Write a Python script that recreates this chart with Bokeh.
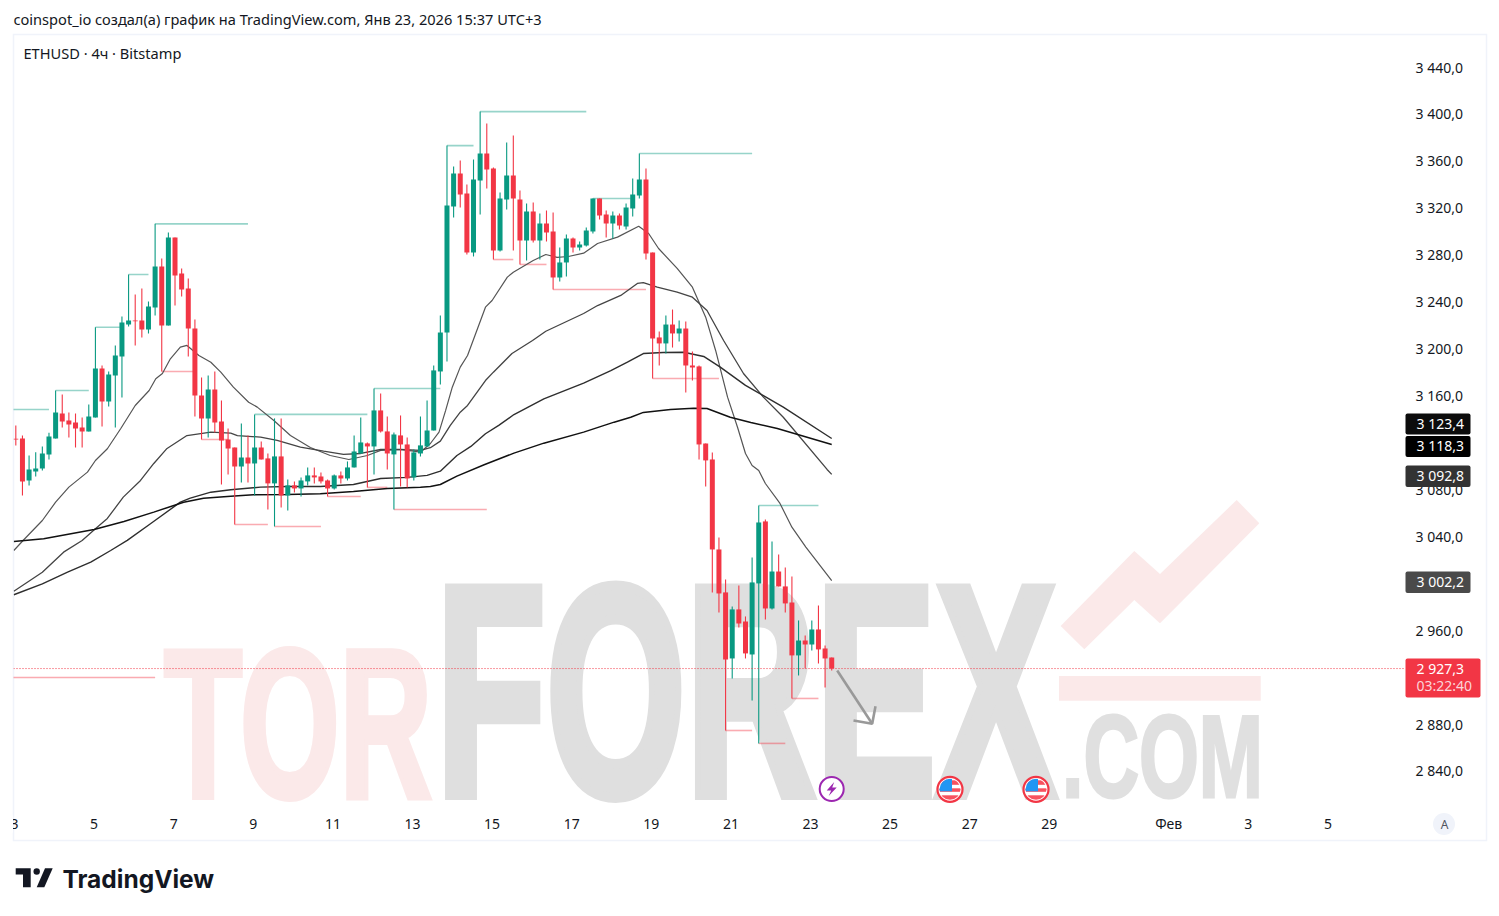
from bokeh.plotting import figure
from bokeh.models import (Range1d, LinearAxis, FixedTicker, BoxAnnotation, Span, Div, ColumnDataSource)
from bokeh.core.properties import value
from bokeh.layouts import column
from bokeh.embed import file_html
from bokeh.resources import INLINE

# ---------- candles (ETHUSD 4h) ----------
opens = [3123.1,3123.4,3087.6,3095.2,3097.8,3109.7,3123.4,3144.7,3138.7,3137.0,3132.7,3129.3,3141.3,3183.0,3154.9,3177.0,
         3193.2,3220.5,3223.9,3223.9,3216.3,3235.0,3269.9,3219.7,3294.7,3264.0,3251.2,3217.1,3160.0,3140.4,3165.1,3137.8,
         3122.5,3115.7,3099.6,3107.2,3102.1,3115.7,3106.4,3085.1,3108.1,3074.8,3083.4,3080.8,3086.8,3091.9,3091.0,3087.6,
         3080.8,3091.9,3089.3,3098.7,3110.6,3119.2,3116.6,3147.3,3129.4,3109.8,3126.0,3118.3,3090.2,3110.6,3116.6,3130.2,
         3180.5,3213.7,3321.1,3349.2,3332.2,3281.9,3343.3,3366.3,3353.5,3283.6,3327.0,3347.5,3327.0,3292.1,3316.8,3292.1,
         3306.6,3299.8,3260.6,3273.4,3293.8,3286.2,3287.9,3299.8,3327.9,3314.3,3306.6,3313.4,3304.0,3319.4,3330.5,3344.1,
         3281.9,3209.5,3204.4,3220.5,3212.9,3217.1,3185.6,3184.8,3119.1,3105.5,3028.8,2992.2,2935.9,2977.7,2967.4,2939.3,
         2999.8,3052.7,2978.5,3010.0,2997.3,2983.6,2938.5,2951.2,2947.8,2960.6,2944.4,2936.7]
highs = [3134.4,3125.9,3108.9,3111.7,3116.5,3128.2,3164.3,3160.9,3145.5,3144.7,3141.3,3152.3,3218.2,3185.6,3180.5,3202.6,
         3227.3,3263.1,3246.1,3251.2,3240.1,3306.3,3276.8,3298.9,3294.7,3268.2,3259.7,3224.8,3175.3,3177.0,3180.5,3155.7,
         3131.9,3115.7,3136.2,3126.0,3143.9,3120.9,3110.6,3140.5,3140.5,3088.5,3086.8,3090.2,3098.7,3098.7,3094.4,3088.5,
         3092.7,3095.3,3103.8,3126.0,3141.3,3120.0,3166.0,3161.8,3142.2,3128.5,3143.0,3124.3,3114.0,3142.2,3155.8,3185.6,
         3228.2,3373.0,3355.2,3360.3,3339.8,3361.2,3402.0,3391.8,3354.4,3333.0,3375.7,3381.6,3334.7,3323.7,3324.5,3315.1,
         3317.7,3316.0,3286.2,3297.2,3294.7,3291.3,3303.2,3327.9,3327.9,3317.7,3316.8,3315.1,3323.7,3345.0,3366.3,3353.5,
         3281.9,3214.6,3228.2,3233.3,3224.0,3223.1,3197.5,3185.6,3119.1,3111.5,3039.0,3003.2,2980.2,2998.1,2971.7,3022.0,
         3066.3,3054.4,3035.6,3024.5,3013.5,3005.8,2968.3,2955.5,2968.3,2981.1,2947.0,2936.7]
lows = [3117.4,3074.8,3083.3,3091.0,3096.1,3105.5,3123.4,3132.7,3124.2,3115.7,3115.7,3129.3,3141.3,3133.6,3150.6,3132.7,
        3158.3,3218.8,3202.6,3209.4,3212.8,3228.2,3180.5,3219.7,3236.7,3244.4,3193.2,3142.1,3122.5,3124.2,3128.5,3084.1,
        3092.7,3050.1,3085.9,3085.9,3074.8,3105.5,3062.9,3048.4,3064.6,3062.1,3077.4,3074.0,3083.4,3085.1,3085.1,3074.0,
        3080.0,3085.1,3087.6,3098.7,3110.6,3081.7,3092.7,3128.5,3097.0,3062.9,3082.5,3081.7,3087.6,3108.1,3116.6,3130.2,
        3169.4,3189.0,3311.7,3320.2,3280.2,3278.5,3314.3,3336.4,3275.9,3282.7,3318.6,3283.6,3271.7,3275.0,3290.4,3275.9,
        3291.3,3250.4,3257.2,3261.4,3281.9,3283.6,3287.0,3298.1,3310.0,3294.7,3293.8,3301.5,3301.5,3312.6,3327.9,3275.9,
        3174.5,3185.6,3195.8,3200.9,3206.1,3162.6,3172.8,3105.5,3082.5,2992.2,2975.1,2874.5,2918.9,2962.3,2935.9,2900.1,
        2863.5,2969.1,2977.7,2997.3,2975.1,2901.8,2921.4,2927.4,2942.7,2931.6,2911.2,2925.7]
closes = [3122.5,3086.7,3096.9,3097.8,3110.6,3125.1,3145.5,3137.8,3135.3,3131.9,3129.3,3142.1,3183.0,3154.9,3177.9,3194.1,
          3222.2,3223.9,3223.4,3216.3,3235.9,3269.9,3219.7,3294.7,3262.3,3250.3,3217.1,3160.0,3140.4,3165.1,3137.0,3121.6,
          3114.8,3099.6,3107.2,3102.1,3115.7,3105.5,3085.1,3108.1,3074.8,3083.4,3080.8,3087.6,3091.9,3090.2,3086.8,3080.8,
          3091.9,3089.3,3098.7,3112.3,3120.0,3116.6,3147.3,3129.4,3110.6,3126.8,3118.3,3089.3,3111.5,3117.5,3130.2,3181.4,
          3213.7,3322.0,3349.2,3331.4,3281.9,3344.1,3366.3,3352.6,3283.6,3327.9,3347.5,3327.9,3292.1,3316.8,3292.1,3306.6,
          3299.0,3260.6,3273.4,3293.8,3286.2,3288.7,3300.7,3327.9,3313.4,3306.6,3313.4,3304.9,3320.2,3331.4,3344.1,3281.0,
          3208.6,3204.4,3220.5,3212.9,3217.1,3185.6,3183.9,3118.3,3104.7,3028.8,2991.3,2935.0,2977.7,2965.7,2940.2,3000.7,
          3051.8,2978.5,3010.0,2997.3,2982.8,2938.5,2951.2,2947.8,2960.6,2943.6,2935.9,2927.3]

# ---------- moving averages: candle number, value ----------
ema_a_i = [-0.3,1.2,4.0,6.0,8.0,10.8,12.0,13.8,15.8,18.0,20.1,21.1,22.1,23.3,24.8,25.8,27.6,29.4,30.9,32.8,35.1,36.4,38.9,41.4,44.4,47.4,50.2,53.0,55.0,58.0,61.0,62.5,63.8,64.8,65.8,67.0,68.1,70.8,71.8,74.1,75.0,78.0,79.9,81.6,83.3,85.6,87.7,90.7,93.9,95.4,96.9,99.7,102.0,104.0,105.5,107.3,108.8,110.0,111.0,112.0,113.0,115.2,117.0,119.1,123.0]
ema_a_v = [3027.9,3037.1,3053.5,3069.1,3081.9,3094.7,3104.6,3114.6,3131.7,3151.5,3164.3,3174.3,3178.8,3191.3,3201.2,3202.7,3194.1,3188.4,3179.9,3167.1,3154.3,3150.1,3138.7,3125.9,3115.7,3108.9,3105.5,3108.9,3113.2,3114.0,3111.7,3119.1,3128.8,3147.3,3167.1,3184.2,3194.1,3235.3,3241.0,3260.9,3265.1,3275.1,3280.2,3277.7,3278.5,3281.3,3289.6,3295.0,3304.3,3298.1,3285.3,3268.3,3252.3,3226.8,3198.4,3158.6,3133.0,3110.6,3100.4,3096.1,3085.0,3068.0,3047.8,3030.8,3002.2]
ema_b_i = [-0.3,4.0,7.2,10.0,12.0,13.8,16.2,18.8,20.8,22.8,25.8,29.4,32.4,33.4,36.9,39.4,42.9,46.4,49.4,52.0,55.0,58.0,61.0,62.5,64.0,65.5,67.0,68.1,70.8,72.0,74.8,77.9,79.9,85.6,87.7,91.2,93.7,94.6,96.7,99.7,102.0,104.2,106.7,109.7,112.7,115.7,122.3,123.0]
ema_b_v = [2993.2,3009.4,3026.5,3036.5,3046.4,3055.2,3073.4,3087.6,3102.1,3114.9,3125.9,3128.8,3127.9,3125.9,3124.5,3121.7,3116.0,3112.6,3109.8,3110.6,3114.0,3114.0,3113.2,3115.5,3121.1,3134.5,3145.8,3151.5,3172.8,3179.9,3195.8,3206.9,3214.8,3229.9,3236.7,3245.3,3255.5,3256.3,3252.3,3248.1,3243.8,3232.5,3206.9,3178.8,3158.6,3141.5,3097.0,3092.8]
ema_c_i = [-0.3,4.0,7.8,11.3,14.3,16.8,20.3,24.8,26.3,29.4,32.4,36.9,40.9,45.9,50.9,55.0,59.0,62.0,64.0,66.5,68.6,70.8,72.8,75.1,79.6,85.6,89.7,92.2,94.6,97.6,100.7,103.7,106.2,110.0,112.7,115.7,123.0]
ema_c_v = [2990.2,2999.5,3009.4,3018.0,3027.9,3036.5,3050.7,3069.1,3072.5,3077.6,3079.7,3081.9,3082.5,3082.5,3084.2,3089.3,3090.2,3091.9,3095.5,3108.9,3116.6,3127.4,3134.5,3143.8,3157.2,3170.5,3181.3,3188.4,3195.8,3196.7,3196.9,3193.3,3184.2,3168.6,3160.0,3150.1,3123.4]
ema_d_i = [-0.3,4.2,11.8,16.3,20.8,25.3,28.3,32.4,35.8,40.9,45.9,50.9,56.0,61.0,62.5,64.0,66.5,70.6,75.1,79.6,85.6,90.2,92.7,94.6,98.7,102.2,104.2,107.7,110.8,114.8,123.0]
ema_d_v = [3035.6,3037.9,3045.8,3052.7,3060.6,3069.1,3072.5,3074.2,3075.4,3075.7,3076.3,3078.2,3080.8,3081.9,3082.5,3084.2,3091.3,3101.0,3110.9,3119.4,3128.8,3137.3,3141.5,3145.6,3148.1,3149.2,3149.0,3141.5,3137.0,3131.9,3118.3]

# ---------- swing levels: first candle, last candle, price ----------
hi_start = [-3,6,12,17,21,36,54,65,70,87,94,112]
hi_end = [5,11,15.7,20,35,53,64,69,86,92.7,111,121]
hi_price = [3148.1,3164.3,3218.2,3263.1,3306.3,3143.9,3166.0,3373.0,3402.0,3327.9,3366.3,3066.3]
lo_start = [-3,22,28,33,39,47,53,57,72,76,81,96,107,112,117]
lo_end = [21,27,32,38,46,52,56,71,75,80,95,106,111,116,121]
lo_price = [2919.7,3180.5,3122.5,3050.1,3048.4,3074.0,3081.7,3062.9,3275.9,3271.7,3250.4,3174.5,2874.5,2863.5,2901.8]

# ---------- axes ----------
price_ticks = [3440,3400,3360,3320,3280,3240,3200,3160,3080,3040,2960,2880,2840]
price_labels = ["3 440,0","3 400,0","3 360,0","3 320,0","3 280,0","3 240,0","3 200,0","3 160,0","3 080,0","3 040,0","2 960,0","2 880,0","2 840,0"]
date_ticks = [3,5,7,9,11,13,15,17,19,21,23,25,27,29,32,34,36]
date_labels = ["3","5","7","9","11","13","15","17","19","21","23","25","27","29","Фев","3","5"]

# ---------- price tags ----------
tag_text = ["3 123,4","3 118,3","3 092,8","3 002,2","2 927,3"]
tag_fill = ["#0c0c0c","#000000","#333333","#4a4a4a","#f23645"]
tag_top = [413,435.5,465,571,658]
tag_bottom = [434,456.5,486.5,592.5,697]
tag_right = [1470,1470,1470,1470,1480]

FONT = "Noto Sans"
INK = "#131722"
UP = "#089981"
DOWN = "#f23645"
W, H = 1491, 908

def Xp(px): return 3 + (px - 14) / 39.8
def Yp(py): return 3440 - (py - 66.5) * 0.8523
def day(i): return 3.033 + i / 6

FLAG = """<circle r="12.5" fill="#fff" stroke="#f23645" stroke-width="2.2"/><g clip-path="url(#fc)">
<rect x="-11" y="-11" width="22" height="22" fill="#fff"/><rect x="-11" y="-9" width="22" height="4.5" fill="#f7525f"/><rect x="-11" y="-1" width="22" height="3.5" fill="#f7525f"/><rect x="-11" y="6" width="22" height="5" fill="#f7525f"/>
<rect x="-11" y="-11" width="13" height="13" fill="#2196f3"/></g>"""
svg_bg = f"""<svg xmlns="http://www.w3.org/2000/svg" width="{W}" height="{H}" viewBox="0 0 {W} {H}"
 style="position:absolute;left:0;top:0;pointer-events:none">
<rect x="13.5" y="34.5" width="1473" height="806" fill="none" stroke="#f0f3fa" stroke-width="1.5"/>
<g font-family="Liberation Sans Narrow" font-weight="700" stroke-linejoin="miter">
<text x="164" y="797" font-size="212" fill="#fbe9e9" stroke="#fbe9e9" stroke-width="6" textLength="268" lengthAdjust="spacingAndGlyphs">TOR</text>
<text x="436" y="795" font-size="300" fill="#dfdfdf" stroke="#dfdfdf" stroke-width="10" textLength="620" lengthAdjust="spacingAndGlyphs">FOREX</text>
<text x="1062" y="796.5" font-size="116" fill="#e0e0e0" stroke="#e0e0e0" stroke-width="3" textLength="201" lengthAdjust="spacingAndGlyphs">.COM</text>
</g>
<polygon fill="#fbe9e9" points="1236.7,500 1259.3,523.3 1160,623.3 1134.3,600 1084.3,649.3 1060.7,626 1134.3,551 1160,574"/>
<rect x="1059" y="676" width="201.7" height="24.7" fill="#fbe9e9"/>
<circle cx="1444" cy="824" r="11" fill="#f0f3fa"/>
<g transform="translate(831.7,789)"><circle r="12" fill="#fff" stroke="#9c27b0" stroke-width="2"/>
<polygon fill="#9c27b0" points="2.5,-7 -5,1.5 -0.5,1.5 -3,7 5,-1.5 0.5,-1.5"/></g>
<defs><clipPath id="fc"><circle r="10.5"/></clipPath></defs>
<g transform="translate(950,789.3)">{FLAG}</g>
<g transform="translate(1036,789.3)">{FLAG}</g>
<g fill="#131722"><path d="M15.7 868.3H30.7V887.3H23V874.5H15.7Z"/><circle cx="36.7" cy="871.5" r="3.2"/><path d="M45 868.3H52.7L44.3 887.3H36.7Z"/></g>
</svg>"""
bg = Div(text=svg_bg, width=W, height=0, margin=0, styles={"position": "relative", "overflow": "visible"})

p = figure(width=W, height=H, output_backend="svg", toolbar_location=None,
           x_range=Range1d(Xp(13), Xp(1405)), y_range=Range1d(Yp(806), Yp(35)),
           x_axis_location=None, y_axis_location=None,
           min_border_left=13, min_border_right=W - 1405, min_border_top=35, min_border_bottom=H - 806,
           background_fill_color=None, border_fill_color=None, outline_line_color=None)
p.grid.visible = False
p.margin = 0

right = LinearAxis(ticker=FixedTicker(ticks=price_ticks),
                   major_label_overrides=dict(zip(price_ticks, price_labels)))
below = LinearAxis(ticker=FixedTicker(ticks=date_ticks),
                   major_label_overrides=dict(zip(date_ticks, date_labels)))
for ax in (right, below):
    ax.axis_line_color = None
    ax.major_tick_line_color = None
    ax.minor_tick_line_color = None
    ax.major_tick_out = 0
    ax.major_tick_in = 0
    ax.major_label_text_font = FONT
    ax.major_label_text_font_size = "14px"
    ax.major_label_text_color = INK
right.major_label_standoff = 10
below.major_label_standoff = 7
p.add_layout(right, "right")
p.add_layout(below, "below")

# swing levels
p.segment([day(i) for i in hi_start], hi_price, [day(i) for i in hi_end], hi_price,
          line_color=UP, line_alpha=0.42, line_width=1.6)
p.segment([day(i) for i in lo_start], lo_price, [day(i) for i in lo_end], lo_price,
          line_color=DOWN, line_alpha=0.42, line_width=1.6)

# moving averages
for xs, ys, c, w in ((ema_a_i, ema_a_v, "#555555", 1.2), (ema_b_i, ema_b_v, "#444444", 1.3),
                     (ema_c_i, ema_c_v, "#2e2e2e", 1.4), (ema_d_i, ema_d_v, "#111111", 1.5)):
    p.line([day(i) for i in xs], ys, line_color=c, line_width=w)

# candles
n = len(opens)
colors = [UP if closes[i] >= opens[i] else DOWN for i in range(n)]
src = ColumnDataSource(dict(x=[day(i) for i in range(n)], o=opens, h=highs, l=lows, c=closes,
                            top=[max(opens[i], closes[i]) for i in range(n)],
                            bot=[min(opens[i], closes[i]) for i in range(n)], col=colors))
p.segment("x", "h", "x", "l", source=src, line_color="col", line_width=1.1)
p.vbar("x", 5 / 39.8, "bot", "top", source=src, fill_color="col", line_color=None)

# last price line
p.add_layout(Span(location=closes[-1], dimension="width", line_color=DOWN, line_width=1, line_dash="1 2"))

# drawn arrow
p.line([Xp(836.7), Xp(871.7)], [Yp(670), Yp(723.3)], line_color="#999999", line_width=2.6)
p.line([Xp(853), Xp(871.7), Xp(875)], [Yp(720), Yp(723.3), Yp(705.7)], line_color="#999999", line_width=2.6)

# overlay figure spanning the whole page, in page pixels, for what lies outside the plot frame
ov = figure(width=W, height=H, output_backend="svg", toolbar_location=None,
            x_range=Range1d(0, W), y_range=Range1d(H, 0), x_axis_location=None, y_axis_location=None,
            min_border_left=0, min_border_right=0, min_border_top=0, min_border_bottom=0,
            background_fill_color=None, border_fill_color=None, outline_line_color=None)
ov.grid.visible = False
ov.margin = 0

# hides the part of the first date label that lies left of the chart box
ov.quad(left=[0], right=[12.5], top=[815], bottom=[832], fill_color="#ffffff", line_color=None)

for t, b, r, c in zip(tag_top, tag_bottom, tag_right, tag_fill):
    ov.add_layout(BoxAnnotation(left=1405, right=r, top=t, bottom=b, fill_color=c, fill_alpha=1,
                                line_color=None, border_radius=2, level="underlay"))

def txt(x, y, s, size, font=FONT, style="normal", color=INK, align="left"):
    ov.text([x], [y], text=[s], text_color=color, text_font=value(font), text_font_size=size,
            text_font_style=style, text_baseline="middle", text_align=align)

for s, t, b in zip(tag_text[:-1], tag_top, tag_bottom):
    txt(1416, (t + b) / 2 - 1, s, "14px", color="#ffffff")
txt(1416, 667.5, tag_text[-1], "14px", color="#ffffff")
txt(1416, 684.5, "03:22:40", "14px", color="#fcd5d9")
txt(13, 18.5, "coinspot_io создал(а) график на TradingView.com, Янв 23, 2026 15:37 UTC+3", "14.6px")
txt(23, 52.5, "ETHUSD · 4ч · Bitstamp", "14.6px")
txt(1444, 823.5, "A", "12px", align="center", color="#50535e")
txt(62, 878, "TradingView", "24.5px", font="Inter", style="bold")

ov_box = column(ov, margin=0, width=W, height=H,
                styles={"position": "absolute", "left": "0", "top": "0", "pointer-events": "none"})
open("out.html", "w").write(file_html(column(bg, p, ov_box, spacing=0, margin=0), INLINE))
